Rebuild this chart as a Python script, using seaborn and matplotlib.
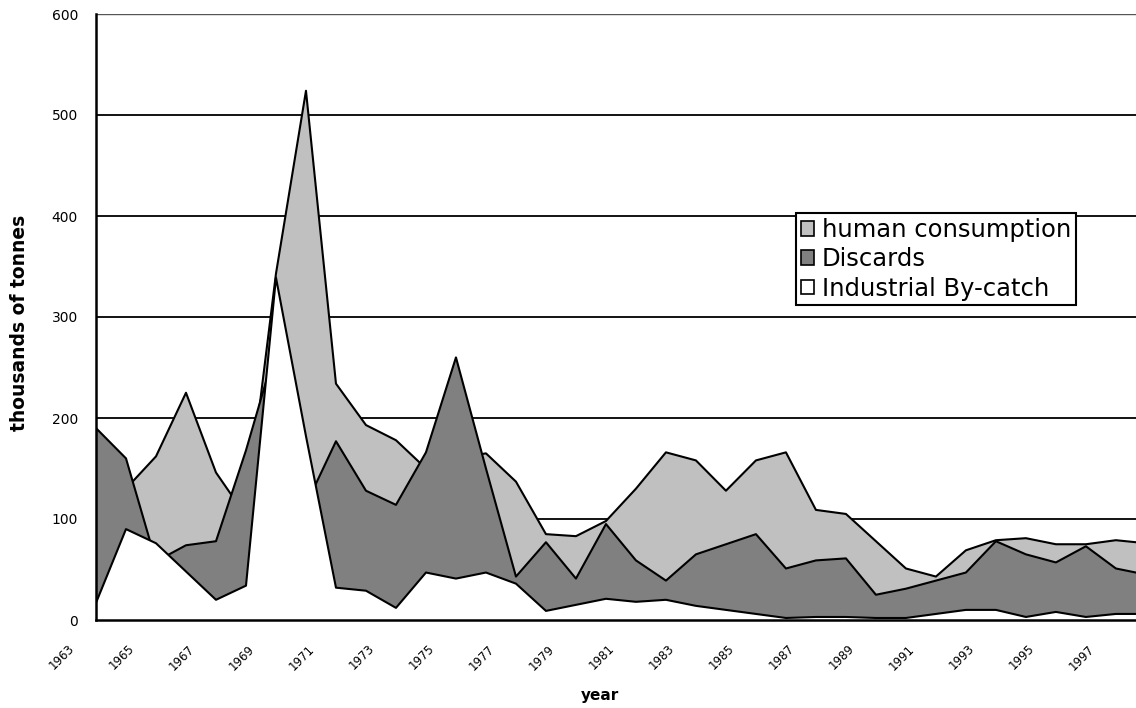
import numpy as np
import pandas as pd
import matplotlib
matplotlib.use("Agg")
import matplotlib.pyplot as plt
import seaborn as sns
from matplotlib.patches import Patch
from matplotlib.transforms import ScaledTranslation

# ---- data (thousands of tonnes) ----
years = list(range(1963, 1999))
human = [150, 130, 162, 225, 146, 103, 343, 524, 234, 193,
         178, 150, 160, 165, 137, 85, 83, 98, 130, 166,
         158, 128, 158, 166, 109, 105, 78, 51, 43, 69,
         79, 81, 75, 75, 79, 76]
discards = [190, 160, 58, 74, 78, 168, 270, 114, 177, 128,
            114, 166, 260, 150, 43, 77, 41, 95, 59, 39,
            65, 75, 85, 51, 59, 61, 25, 31, 39, 47,
            78, 65, 57, 73, 51, 45]
industrial = [17, 90, 76, 48, 20, 34, 339, 182, 32, 29,
              12, 47, 41, 47, 36, 9, 15, 21, 18, 20,
              14, 10, 6, 2, 3, 3, 2, 2, 6, 10,
              10, 3, 8, 3, 6, 6]
series_names = ["human consumption", "Discards", "Industrial By-catch"]
series_colors = ["#C0C0C0", "#808080", "#FFFFFF"]
y_ticks = [0, 100, 200, 300, 400, 500, 600]

sns.set_style("white")
plt.rcParams["font.family"] = ["DejaVu Sans"]
plt.rcParams["text.color"] = "black"
plt.rcParams["axes.labelcolor"] = "black"

df = pd.DataFrame({"idx": np.arange(len(years)), "year": years,
                   series_names[0]: human, series_names[1]: discards,
                   series_names[2]: industrial})

W, H = 1136, 708
fig = plt.figure(figsize=(W / 100, H / 100), dpi=100)
ax = fig.add_axes([96 / W, 1 - 620 / H, 1040 / W, 606 / H])

for i, (name, col) in enumerate(zip(series_names, series_colors)):
    ax.fill_between(df["idx"], 0, df[name], facecolor=col, edgecolor="none",
                    zorder=3 + 2 * i)
    sns.lineplot(data=df, x="idx", y=name, color="black", lw=1.5, ax=ax,
                 estimator=None, sort=False, zorder=4 + 2 * i)

ax.set_xlim(0, 34.67)
ax.set_ylim(0, 600)
ax.set_yticks(y_ticks)
ax.set_yticklabels([str(v) for v in y_ticks])

tick_idx = [i for i in df["idx"] if i <= 34]
ax.set_xticks(tick_idx)
ax.set_xticklabels([str(years[i]) if i % 2 == 0 else "" for i in tick_idx])

ax.yaxis.grid(True, color="black", lw=1.3, zorder=1)
ax.xaxis.grid(False)
ax.set_axisbelow(True)
# top gridline appears lighter in the reference
gl = ax.get_ygridlines()
gl[-1].set_color("#555555")
gl[-1].set_linewidth(1.0)

for s in ["top", "right"]:
    ax.spines[s].set_visible(False)
for s in ["left", "bottom"]:
    ax.spines[s].set_color("black")
    ax.spines[s].set_linewidth(1.8)
    ax.spines[s].set_zorder(20)

ax.tick_params(axis="x", direction="out", length=5, width=1.5, color="black",
               pad=11, labelsize=8.5, labelcolor="black")
ax.tick_params(axis="y", direction="out", length=5, width=1.5, color="black",
               pad=8, labelsize=10, labelcolor="black")

off = ScaledTranslation(-19 / 100, 0, fig.dpi_scale_trans)
for lab in ax.get_xticklabels():
    lab.set_rotation(45)
    lab.set_ha("right")
    lab.set_va("top")
    lab.set_transform(lab.get_transform() + off)

ax.set_ylabel("thousands of tonnes", fontsize=13.5, fontweight="bold")
ax.yaxis.set_label_coords((29 - 96) / 1040, 0.49)
ax.set_xlabel("year", fontsize=11, fontweight="bold")
ax.xaxis.set_label_coords((600 - 96) / 1040, (620 - 688) / 606)

handles = [Patch(facecolor=c, edgecolor="black", lw=1.2) for c in series_colors]
leg = ax.legend(handles, series_names, loc="upper left",
                bbox_to_anchor=(796 / W, 1 - 213 / H),
                bbox_transform=fig.transFigure, fancybox=False,
                edgecolor="black", framealpha=1, fontsize=17.5,
                handlelength=0.55, handleheight=0.55, handletextpad=0.3,
                labelspacing=0.22, borderpad=0.2, borderaxespad=0)
leg.get_frame().set_linewidth(1.5)
leg.set_zorder(30)
for t in leg.get_texts():
    t.set_color("black")

fig.savefig("out.png", dpi=100)
